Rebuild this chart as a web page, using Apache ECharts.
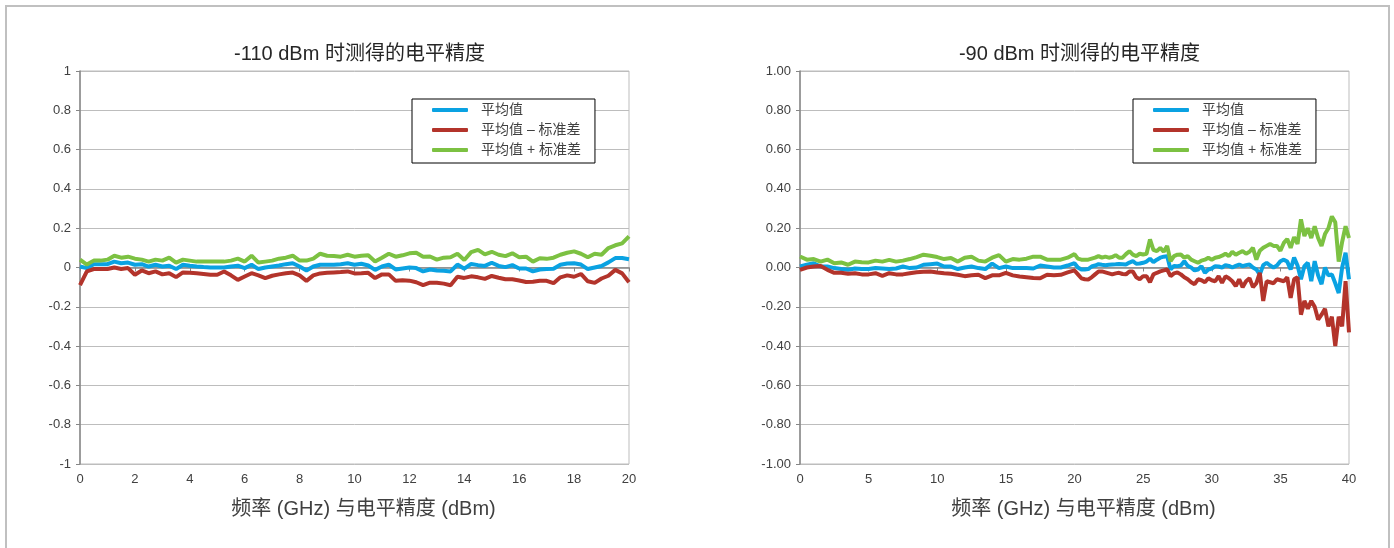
<!DOCTYPE html>
<html>
<head>
<meta charset="utf-8">
<script src="https://cdn.jsdelivr.net/npm/echarts@6/dist/echarts.min.js"></script>
<style>html,body{margin:0;padding:0;background:#fff;}#c{width:1394px;height:548px;}</style>
</head>
<body>
<div id="c"></div>
<script>
// ---- data ----
const seriesNames = ['平均值', '平均值 – 标准差', '平均值 + 标准差'];
const leftTitle = '-110 dBm 时测得的电平精度';
const rightTitle = '-90 dBm 时测得的电平精度';
const xName = '频率 (GHz) 与电平精度 (dBm)';

// left chart: 0..20 GHz every 0.25 GHz
const leftFreq = [];
for (let i = 0; i <= 80; i++) leftFreq.push(i * 0.25);
const leftMean = [0.005,-0.003,0.017,0.017,0.017,0.03,0.022,0.025,0.014,0.017,0.005,0.014,0.005,0.009,-0.008,0.014,0.009,0.005,0.002,0.0,0.0,0.0,0.005,0.009,-0.003,0.014,-0.008,0.0,0.005,0.01,0.017,0.022,0.005,-0.015,0.005,0.014,0.014,0.014,0.017,0.022,0.014,
  0.019,0.01,-0.012,0.005,0.015,-0.01,-0.005,0.0,-0.003,-0.02,-0.01,-0.015,-0.017,-0.02,0.015,-0.006,0.018,0.012,0.008,0.024,0.008,0.002,0.012,-0.005,-0.005,-0.02,-0.01,-0.008,-0.006,0.014,0.02,0.022,0.015,-0.008,0.0,0.008,0.026,0.048,0.048,0.042];
const leftLow = [-0.09,-0.02,-0.008,-0.008,-0.008,0.0,-0.008,-0.003,-0.037,-0.015,-0.029,-0.02,-0.035,-0.029,-0.049,-0.025,-0.027,-0.029,-0.033,-0.037,-0.037,-0.02,-0.04,-0.063,-0.046,-0.029,-0.04,-0.054,-0.042,-0.035,-0.029,-0.026,-0.04,-0.068,-0.04,-0.03,-0.027,-0.025,-0.023,-0.02,-0.03,
  -0.029,-0.027,-0.054,-0.035,-0.035,-0.068,-0.065,-0.067,-0.075,-0.09,-0.077,-0.078,-0.082,-0.09,-0.047,-0.053,-0.045,-0.05,-0.058,-0.043,-0.052,-0.06,-0.06,-0.066,-0.074,-0.072,-0.067,-0.068,-0.08,-0.05,-0.04,-0.047,-0.033,-0.07,-0.078,-0.056,-0.042,-0.012,-0.03,-0.075];
const leftHigh = [0.04,0.015,0.035,0.035,0.04,0.06,0.05,0.055,0.045,0.04,0.03,0.04,0.035,0.05,0.025,0.04,0.035,0.03,0.03,0.03,0.03,0.03,0.035,0.045,0.03,0.06,0.025,0.03,0.035,0.045,0.05,0.06,0.035,0.035,0.045,0.07,0.06,0.058,0.055,0.065,0.055,
  0.06,0.062,0.031,0.05,0.07,0.055,0.062,0.072,0.075,0.055,0.056,0.04,0.05,0.052,0.07,0.038,0.078,0.09,0.067,0.08,0.065,0.058,0.072,0.052,0.055,0.03,0.047,0.044,0.05,0.065,0.075,0.082,0.07,0.052,0.07,0.065,0.099,0.113,0.123,0.158];

// right chart: 0..20 GHz every 0.5 GHz, then 20.25..40 GHz every 0.25 GHz
const rightFreq = [];
for (let i = 0; i <= 40; i++) rightFreq.push(i * 0.5);
for (let i = 1; i <= 80; i++) rightFreq.push(20 + i * 0.25);
const rightMean = [0.005,0.014,0.022,0.005,0.005,-0.003,-0.008,-0.012,-0.005,-0.008,-0.008,-0.003,-0.005,-0.008,-0.005,0.005,-0.003,0.0,0.014,0.017,0.02,0.005,0.005,-0.008,0.0,0.005,-0.003,-0.008,0.02,-0.003,0.005,-0.003,-0.003,-0.003,-0.005,0.01,0.005,0.0,0.0,0.01,0.022,
  0.0,-0.01,-0.01,-0.008,0.005,0.01,0.017,0.014,0.012,0.014,0.015,0.016,0.018,0.017,0.015,0.025,0.032,0.019,0.02,0.024,0.03,0.045,0.027,0.04,0.05,0.055,0.058,-0.01,0.008,0.007,0.01,0.032,0.008,0.0,-0.015,-0.01,0.007,-0.027,-0.01,-0.005,
  0.007,0.005,0.0,0.012,0.008,0.0,0.008,0.015,0.007,0.012,0.015,0.0,-0.01,-0.036,0.012,0.024,0.01,0.0,0.01,0.032,0.04,0.03,-0.01,0.05,0.01,-0.06,0.007,0.024,-0.07,0.032,-0.04,-0.085,0.0,-0.04,-0.035,-0.08,-0.13,0.0,0.075,-0.06];
const rightLow = [-0.012,0.0,0.005,0.008,-0.012,-0.027,-0.027,-0.032,-0.029,-0.035,-0.035,-0.029,-0.042,-0.029,-0.035,-0.035,-0.029,-0.024,-0.022,-0.02,-0.025,-0.029,-0.032,-0.037,-0.044,-0.04,-0.037,-0.054,-0.04,-0.04,-0.027,-0.04,-0.046,-0.05,-0.054,-0.055,-0.037,-0.04,-0.037,-0.025,-0.015,
  -0.035,-0.055,-0.06,-0.061,-0.05,-0.035,-0.02,-0.02,-0.025,-0.03,-0.035,-0.03,-0.027,-0.033,-0.035,-0.02,-0.02,-0.05,-0.06,-0.044,-0.045,-0.075,-0.035,-0.027,-0.02,-0.015,-0.01,-0.044,-0.03,-0.025,-0.035,-0.05,-0.06,-0.075,-0.085,-0.06,-0.065,-0.075,-0.055,-0.065,
  -0.07,-0.044,-0.078,-0.045,-0.055,-0.07,-0.095,-0.06,-0.1,-0.07,-0.055,-0.1,-0.08,-0.027,-0.17,-0.07,-0.075,-0.08,-0.06,-0.065,-0.07,-0.05,-0.155,-0.06,-0.05,-0.24,-0.17,-0.21,-0.17,-0.2,-0.265,-0.24,-0.21,-0.3,-0.25,-0.4,-0.25,-0.3,-0.07,-0.33];
const rightHigh = [0.056,0.04,0.043,0.03,0.04,0.022,0.026,0.014,0.03,0.027,0.026,0.035,0.03,0.039,0.03,0.035,0.043,0.053,0.065,0.06,0.053,0.043,0.048,0.03,0.05,0.055,0.035,0.03,0.05,0.063,0.03,0.043,0.04,0.045,0.055,0.055,0.04,0.04,0.04,0.05,0.068,
  0.045,0.04,0.04,0.04,0.045,0.05,0.058,0.05,0.055,0.05,0.053,0.063,0.05,0.05,0.068,0.083,0.065,0.058,0.07,0.066,0.07,0.143,0.09,0.083,0.1,0.08,0.11,0.032,0.058,0.065,0.066,0.05,0.058,0.04,0.032,0.024,0.035,0.04,0.05,0.04,
  0.05,0.053,0.06,0.07,0.058,0.08,0.065,0.075,0.083,0.07,0.08,0.1,0.04,0.085,0.1,0.11,0.12,0.11,0.11,0.085,0.125,0.145,0.1,0.155,0.12,0.245,0.16,0.2,0.15,0.21,0.15,0.11,0.17,0.2,0.26,0.23,0.03,0.13,0.21,0.15];

// ---- chart ----
const FONT = '"Liberation Sans", "Noto Sans CJK SC", sans-serif';
const colors = ['#0aa2e2', '#b3342b', '#7cc142'];
const pair = (xs, ys) => xs.map((x, i) => [x, ys[i]]);

function yAxis(gi, fmt) {
  return {
    type: 'value', gridIndex: gi, min: -1, max: 1, interval: 0.2,
    axisLine: { show: true, lineStyle: { color: '#868686', width: 1.5 } },
    axisTick: { show: true, length: 4, lineStyle: { color: '#868686' } },
    axisLabel: { color: '#404040', fontSize: 13, fontFamily: FONT, margin: 9, formatter: fmt },
    splitLine: { show: true, lineStyle: { color: '#bdbdbd', width: 1 } }
  };
}
function xAxis(gi, max, interval) {
  return {
    type: 'value', gridIndex: gi, min: 0, max: max, interval: interval,
    name: xName, nameLocation: 'middle', nameGap: 35,
    nameTextStyle: { color: '#404040', fontSize: 20, fontFamily: FONT, padding: [0, 0, 0, 18] },
    axisLine: { show: true, lineStyle: { color: '#868686', width: 1.5 } },
    axisTick: { show: true, length: 4, lineStyle: { color: '#868686' } },
    axisLabel: { color: '#404040', fontSize: 13, fontFamily: FONT, margin: 9 },
    splitLine: { show: false }
  };
}
function legend(left) {
  return {
    left: left, top: 99, orient: 'vertical',
    data: seriesNames,
    icon: 'roundRect', itemWidth: 36, itemHeight: 4, itemGap: 6,
    padding: [4, 14, 6, 20],
    borderColor: '#000', borderWidth: 1, backgroundColor: '#fff',
    textStyle: { color: '#404040', fontSize: 14, fontFamily: FONT, lineHeight: 14, padding: [0, 0, 0, 8] },
    selectedMode: false
  };
}
function lineSeries(name, xi, data, ci) {
  return {
    name: name, type: 'line', xAxisIndex: xi, yAxisIndex: xi, data: data,
    showSymbol: false, symbol: 'none', animation: false,
    lineStyle: { color: colors[ci], width: 4 }, itemStyle: { color: colors[ci] }
  };
}

const chart = echarts.init(document.getElementById('c'), null, { renderer: 'canvas' });
chart.setOption({
  backgroundColor: '#fff',
  animation: false,
  graphic: [{
    type: 'rect', shape: { x: 6, y: 6, width: 1383, height: 600 },
    style: { fill: 'none', stroke: '#c0c0c0', lineWidth: 2 }, silent: true, z: -10
  }],
  title: [
    { text: leftTitle, left: 354.5, top: 39, textAlign: 'center',
      textStyle: { color: '#262626', fontSize: 20, fontWeight: 'normal', fontFamily: FONT } },
    { text: rightTitle, left: 1074.5, top: 39, textAlign: 'center',
      textStyle: { color: '#262626', fontSize: 20, fontWeight: 'normal', fontFamily: FONT } }
  ],
  legend: [legend(412), legend(1133)],
  grid: [
    { left: 80, top: 71, width: 549, height: 393, show: true, borderColor: '#bdbdbd', borderWidth: 1 },
    { left: 800, top: 71, width: 549, height: 393, show: true, borderColor: '#bdbdbd', borderWidth: 1 }
  ],
  xAxis: [xAxis(0, 20, 2), xAxis(1, 40, 5)],
  yAxis: [yAxis(0, null), yAxis(1, v => v.toFixed(2))],
  series: [
    lineSeries(seriesNames[0], 0, pair(leftFreq, leftMean), 0),
    lineSeries(seriesNames[1], 0, pair(leftFreq, leftLow), 1),
    lineSeries(seriesNames[2], 0, pair(leftFreq, leftHigh), 2),
    lineSeries(seriesNames[0], 1, pair(rightFreq, rightMean), 0),
    lineSeries(seriesNames[1], 1, pair(rightFreq, rightLow), 1),
    lineSeries(seriesNames[2], 1, pair(rightFreq, rightHigh), 2)
  ]
});
</script>
</body>
</html>
